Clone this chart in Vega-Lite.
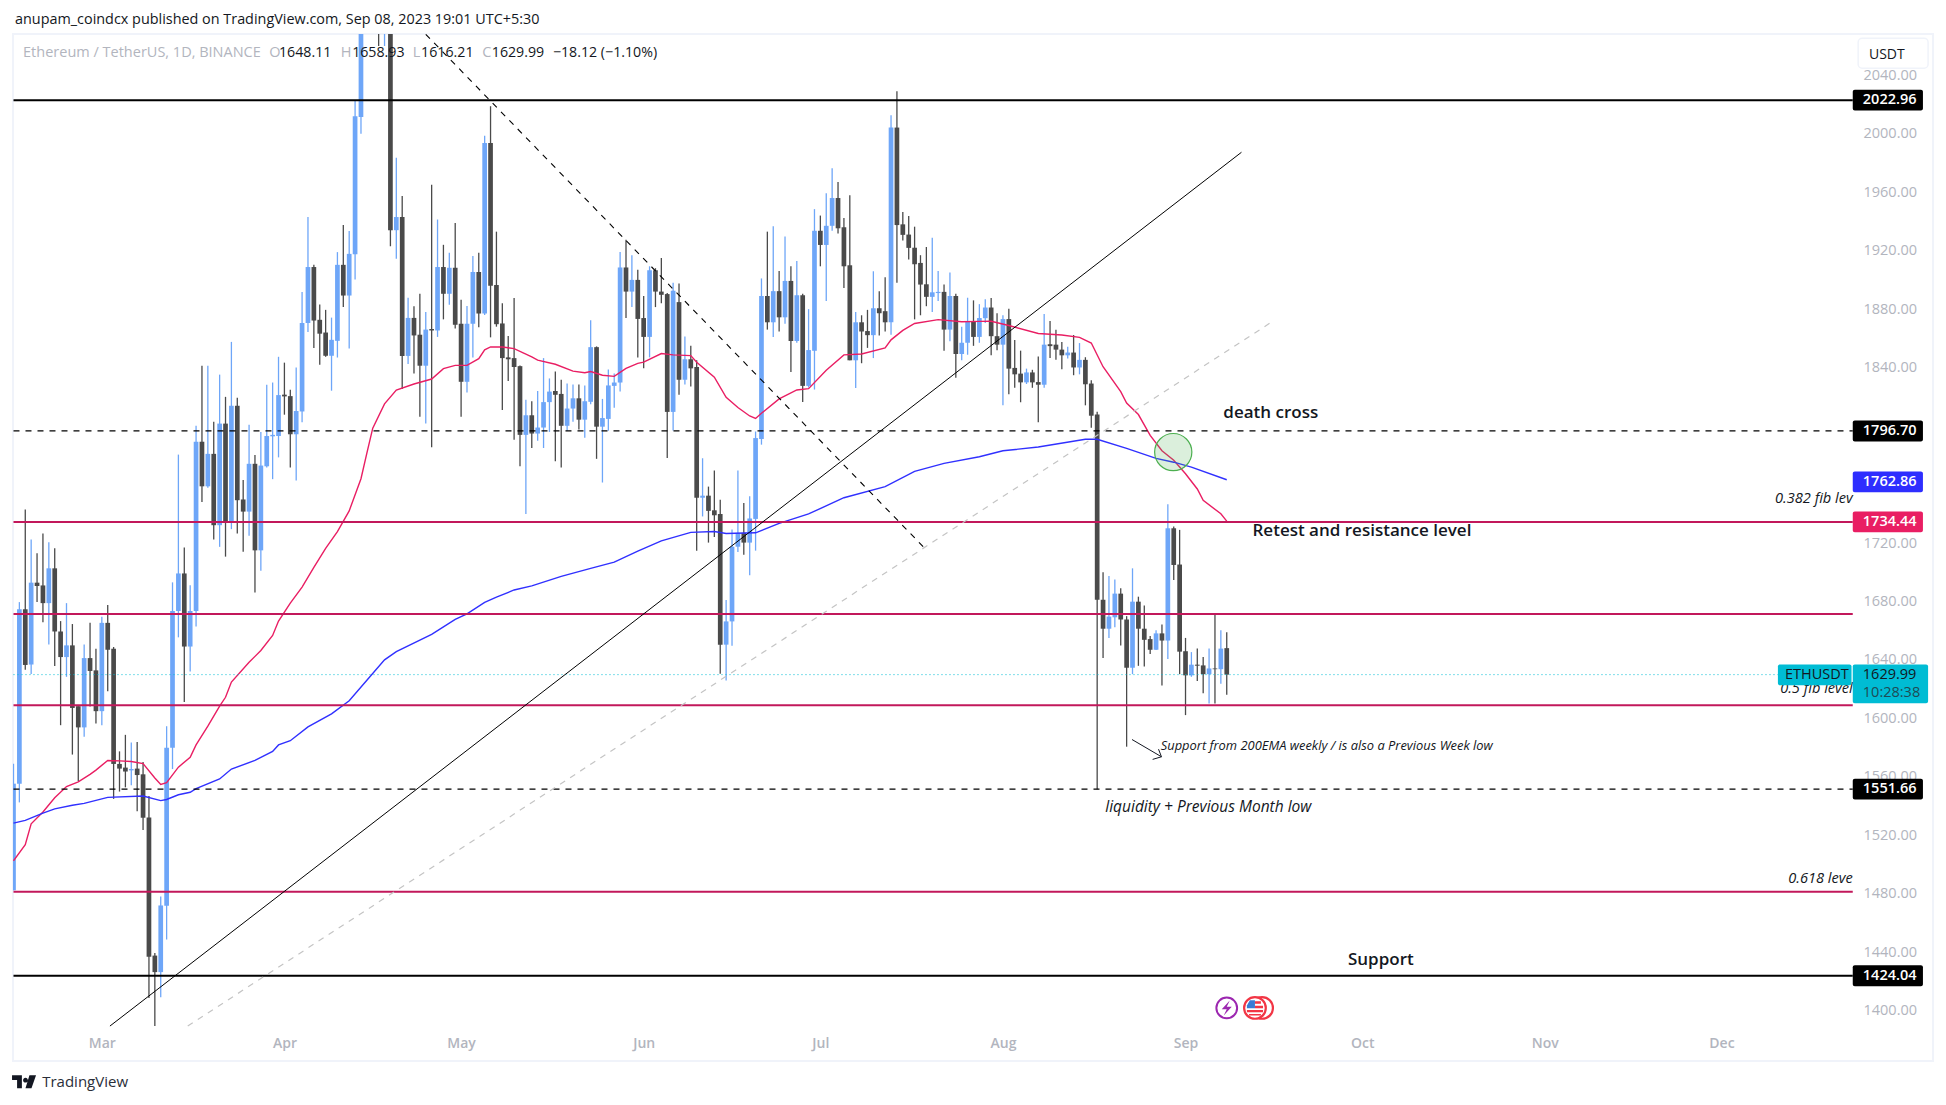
{
"$schema":"https://vega.github.io/schema/vega-lite/v6.json",
"width":1920,"height":1027,
"padding":{"left":13,"top":34,"right":13,"bottom":44},
"autosize":{"type":"none"},
"background":"#ffffff",
"config":{"view":{"stroke":"#f0f3fa","strokeWidth":2},"axis":{"title":null,"grid":false}},
"title":{"text":"anupam_coindcx published on TradingView.com, Sep 08, 2023 19:01 UTC+5:30","anchor":"start","offset":5,"dx":3,"fontSize":14.4,"fontWeight":"normal","font":"Open Sans","color":"#131722"},
"datasets":{
"candles":[
{"d":"2023-02-14","o":1482.5,"h":1569,"l":1482.5,"c":1555.4},
{"d":"2023-02-15","o":1555.4,"h":1679.6,"l":1542.6,"c":1674.7},
{"d":"2023-02-16","o":1674.7,"h":1743,"l":1633.4,"c":1636.6},
{"d":"2023-02-17","o":1636.9,"h":1722.5,"l":1630.5,"c":1692.9},
{"d":"2023-02-18","o":1692.9,"h":1713,"l":1679.6,"c":1690.6},
{"d":"2023-02-19","o":1691,"h":1726.6,"l":1665.9,"c":1678.9},
{"d":"2023-02-20","o":1678.9,"h":1720.5,"l":1650.6,"c":1702.7},
{"d":"2023-02-21","o":1702.7,"h":1716.4,"l":1635.9,"c":1659.5},
{"d":"2023-02-22","o":1659.5,"h":1666.6,"l":1595.4,"c":1642},
{"d":"2023-02-23","o":1642,"h":1678.9,"l":1628.5,"c":1650},
{"d":"2023-02-24","o":1650,"h":1664.6,"l":1575.3,"c":1607.2},
{"d":"2023-02-25","o":1608.4,"h":1608.4,"l":1557.3,"c":1593.9},
{"d":"2023-02-26","o":1593.9,"h":1650.6,"l":1587.5,"c":1641.3},
{"d":"2023-02-27","o":1641.3,"h":1665.4,"l":1608.2,"c":1632.5},
{"d":"2023-02-28","o":1632.9,"h":1647.7,"l":1596.6,"c":1605},
{"d":"2023-03-01","o":1605,"h":1669.5,"l":1595.4,"c":1665.4},
{"d":"2023-03-02","o":1665.4,"h":1677.6,"l":1618.7,"c":1647},
{"d":"2023-03-03","o":1647.7,"h":1648.9,"l":1545,"c":1568.9},
{"d":"2023-03-04","o":1568.9,"h":1577.5,"l":1550,"c":1565.7},
{"d":"2023-03-05","o":1566.4,"h":1588.8,"l":1552.9,"c":1563.7},
{"d":"2023-03-06","o":1564.5,"h":1583.6,"l":1554.4,"c":1565.4},
{"d":"2023-03-07","o":1565.7,"h":1583.9,"l":1536.5,"c":1561.3},
{"d":"2023-03-08","o":1561.8,"h":1570.3,"l":1523.7,"c":1532.1},
{"d":"2023-03-09","o":1532.3,"h":1547,"l":1408.8,"c":1437},
{"d":"2023-03-10","o":1437.8,"h":1439.5,"l":1389.6,"c":1426.5},
{"d":"2023-03-11","o":1426.5,"h":1478.3,"l":1409.3,"c":1472.1},
{"d":"2023-03-12","o":1471.9,"h":1594.7,"l":1448.8,"c":1579.9},
{"d":"2023-03-13","o":1579.9,"h":1693.1,"l":1565.4,"c":1673.5},
{"d":"2023-03-14","o":1673.5,"h":1780.5,"l":1655.5,"c":1699.2},
{"d":"2023-03-15","o":1699.2,"h":1716.9,"l":1611.3,"c":1649.2},
{"d":"2023-03-16","o":1649.2,"h":1691.1,"l":1632.2,"c":1673.5},
{"d":"2023-03-17","o":1673.5,"h":1800.3,"l":1662.9,"c":1789.3},
{"d":"2023-03-18","o":1789.3,"h":1841.2,"l":1748.1,"c":1758.8},
{"d":"2023-03-19","o":1758.8,"h":1841.2,"l":1757.8,"c":1781},
{"d":"2023-03-20","o":1781,"h":1803,"l":1722.5,"c":1732.2},
{"d":"2023-03-21","o":1732.2,"h":1835.2,"l":1717.4,"c":1801.7},
{"d":"2023-03-22","o":1801.7,"h":1820,"l":1710.7,"c":1734.4},
{"d":"2023-03-23","o":1734.4,"h":1857.6,"l":1729.5,"c":1813.9},
{"d":"2023-03-24","o":1813.9,"h":1819.3,"l":1726.6,"c":1749.3},
{"d":"2023-03-25","o":1749.8,"h":1763.2,"l":1714,"c":1741.5},
{"d":"2023-03-26","o":1741.5,"h":1801,"l":1725,"c":1774.2},
{"d":"2023-03-27","o":1774.2,"h":1780.3,"l":1686.2,"c":1715},
{"d":"2023-03-28","o":1715,"h":1796,"l":1701,"c":1773},
{"d":"2023-03-29","o":1772.5,"h":1828.3,"l":1771.7,"c":1793.2},
{"d":"2023-03-30","o":1793,"h":1829.8,"l":1763.7,"c":1794},
{"d":"2023-03-31","o":1793.2,"h":1847.4,"l":1778.6,"c":1821.2},
{"d":"2023-04-01","o":1821.5,"h":1843.4,"l":1807.8,"c":1820.3},
{"d":"2023-04-02","o":1820.5,"h":1824.9,"l":1771.7,"c":1794.4},
{"d":"2023-04-03","o":1794.4,"h":1840,"l":1762.7,"c":1810.3},
{"d":"2023-04-04","o":1810,"h":1891.7,"l":1802.7,"c":1870.5},
{"d":"2023-04-05","o":1870.5,"h":1943,"l":1864.4,"c":1908.8},
{"d":"2023-04-06","o":1908.8,"h":1910.3,"l":1853.4,"c":1872.2},
{"d":"2023-04-07","o":1872.7,"h":1883.2,"l":1842,"c":1863.2},
{"d":"2023-04-08","o":1864,"h":1879.5,"l":1847.4,"c":1848.1},
{"d":"2023-04-09","o":1848.1,"h":1874.2,"l":1824.2,"c":1859},
{"d":"2023-04-10","o":1858.3,"h":1919,"l":1846.9,"c":1910.3},
{"d":"2023-04-11","o":1910.3,"h":1937.6,"l":1881.5,"c":1889.3},
{"d":"2023-04-12","o":1889.3,"h":1933.5,"l":1853,"c":1917.8},
{"d":"2023-04-13","o":1917.6,"h":2022.96,"l":1900.3,"c":2012},
{"d":"2023-04-14","o":2011.5,"h":2125,"l":2000,"c":2100},
{"d":"2023-04-15","o":2100,"h":2110,"l":2071,"c":2092},
{"d":"2023-04-16","o":2092,"h":2138,"l":2080,"c":2120},
{"d":"2023-04-17","o":2120,"h":2125,"l":2060,"c":2077},
{"d":"2023-04-18","o":2077,"h":2141,"l":2060,"c":2100},
{"d":"2023-04-19","o":2100,"h":2100,"l":1923,"c":1933.9},
{"d":"2023-04-20","o":1934,"h":1983.5,"l":1914.4,"c":1943},
{"d":"2023-04-21","o":1943,"h":1957.4,"l":1825.4,"c":1848},
{"d":"2023-04-22","o":1848,"h":1887.8,"l":1842.5,"c":1874},
{"d":"2023-04-23","o":1874,"h":1882,"l":1836,"c":1862},
{"d":"2023-04-24","o":1862.5,"h":1890.5,"l":1806.4,"c":1841.3},
{"d":"2023-04-25","o":1841.3,"h":1878,"l":1801.7,"c":1866},
{"d":"2023-04-26","o":1866.4,"h":1965,"l":1785.6,"c":1865.4},
{"d":"2023-04-27","o":1865.4,"h":1941.3,"l":1861,"c":1908.8},
{"d":"2023-04-28","o":1908.8,"h":1924,"l":1873,"c":1890.5},
{"d":"2023-04-29","o":1890.5,"h":1918.6,"l":1883,"c":1908.3},
{"d":"2023-04-30","o":1908.3,"h":1939,"l":1866.8,"c":1869.3},
{"d":"2023-05-01","o":1870,"h":1886.4,"l":1806.4,"c":1830.3},
{"d":"2023-05-02","o":1830.3,"h":1882.2,"l":1823,"c":1870},
{"d":"2023-05-03","o":1870,"h":1916.4,"l":1847,"c":1905.4},
{"d":"2023-05-04","o":1905.4,"h":1918.6,"l":1867.6,"c":1877},
{"d":"2023-05-05","o":1877,"h":1998.6,"l":1876,"c":1993.7},
{"d":"2023-05-06","o":1993.7,"h":2018.8,"l":1860.7,"c":1896},
{"d":"2023-05-07","o":1896.5,"h":1933,"l":1868,"c":1869.7},
{"d":"2023-05-08","o":1870.2,"h":1884,"l":1811,"c":1846.5},
{"d":"2023-05-09","o":1847,"h":1861.6,"l":1830.9,"c":1845.7},
{"d":"2023-05-10","o":1846.5,"h":1887.6,"l":1790.7,"c":1840.4},
{"d":"2023-05-11","o":1841,"h":1841.5,"l":1772.5,"c":1794},
{"d":"2023-05-12","o":1794,"h":1818,"l":1739.9,"c":1807.4},
{"d":"2023-05-13","o":1807.4,"h":1817,"l":1785,"c":1794.9},
{"d":"2023-05-14","o":1794.9,"h":1824,"l":1790,"c":1799},
{"d":"2023-05-15","o":1799,"h":1846.5,"l":1785,"c":1816.4},
{"d":"2023-05-16","o":1816.4,"h":1832.6,"l":1796,"c":1823.6},
{"d":"2023-05-17","o":1824,"h":1837.3,"l":1776,"c":1821.4},
{"d":"2023-05-18","o":1822,"h":1831.7,"l":1771.7,"c":1800.2},
{"d":"2023-05-19","o":1800.2,"h":1829.2,"l":1796.8,"c":1812},
{"d":"2023-05-20","o":1812,"h":1828.4,"l":1803,"c":1819},
{"d":"2023-05-21","o":1819,"h":1828.4,"l":1797.7,"c":1804.4},
{"d":"2023-05-22","o":1804.4,"h":1827.8,"l":1792,"c":1817},
{"d":"2023-05-23","o":1816.6,"h":1872.4,"l":1815,"c":1854},
{"d":"2023-05-24","o":1854,"h":1854.5,"l":1777.6,"c":1799.6},
{"d":"2023-05-25","o":1799.6,"h":1818.6,"l":1761.4,"c":1805.5},
{"d":"2023-05-26","o":1804.9,"h":1838.7,"l":1796.8,"c":1827.8},
{"d":"2023-05-27","o":1827.5,"h":1836,"l":1812.5,"c":1829.8},
{"d":"2023-05-28","o":1829.8,"h":1919,"l":1823.6,"c":1908.5},
{"d":"2023-05-29","o":1908.5,"h":1927.5,"l":1873.9,"c":1892},
{"d":"2023-05-30","o":1892,"h":1916.9,"l":1881.4,"c":1900},
{"d":"2023-05-31","o":1900,"h":1907,"l":1847,"c":1873.3},
{"d":"2023-06-01","o":1873.9,"h":1889,"l":1839.6,"c":1861},
{"d":"2023-06-02","o":1861,"h":1909.3,"l":1847,"c":1906.6},
{"d":"2023-06-03","o":1906.6,"h":1908,"l":1881.4,"c":1892},
{"d":"2023-06-04","o":1892,"h":1914.9,"l":1884,"c":1889.8},
{"d":"2023-06-05","o":1890.3,"h":1891,"l":1778.1,"c":1809.7},
{"d":"2023-06-06","o":1809.7,"h":1898,"l":1797,"c":1892.6},
{"d":"2023-06-07","o":1884.8,"h":1897.6,"l":1821.4,"c":1831.7},
{"d":"2023-06-08","o":1831.7,"h":1861.3,"l":1828.4,"c":1845.7},
{"d":"2023-06-09","o":1845.7,"h":1854.9,"l":1827,"c":1839.5},
{"d":"2023-06-10","o":1840.4,"h":1845,"l":1714.8,"c":1751},
{"d":"2023-06-11","o":1751,"h":1778,"l":1738.2,"c":1752.4},
{"d":"2023-06-12","o":1752.4,"h":1758.6,"l":1720.3,"c":1742},
{"d":"2023-06-13","o":1742.4,"h":1769.7,"l":1724.2,"c":1739},
{"d":"2023-06-14","o":1739.9,"h":1749.6,"l":1630.6,"c":1650.5},
{"d":"2023-06-15","o":1650.5,"h":1681,"l":1626,"c":1666.4},
{"d":"2023-06-16","o":1666.4,"h":1729.3,"l":1649.7,"c":1717.5},
{"d":"2023-06-17","o":1717.5,"h":1769.7,"l":1713.9,"c":1727},
{"d":"2023-06-18","o":1727,"h":1747.4,"l":1712,"c":1720.3},
{"d":"2023-06-19","o":1720.3,"h":1752,"l":1698,"c":1736.8},
{"d":"2023-06-20","o":1736.5,"h":1796.3,"l":1714.8,"c":1791.8},
{"d":"2023-06-21","o":1791.2,"h":1901,"l":1787.3,"c":1889},
{"d":"2023-06-22","o":1889,"h":1933,"l":1866,"c":1871},
{"d":"2023-06-23","o":1871,"h":1936.7,"l":1861,"c":1892.3},
{"d":"2023-06-24","o":1892.3,"h":1906,"l":1864.7,"c":1874.4},
{"d":"2023-06-25","o":1874.4,"h":1929.7,"l":1870,"c":1899.3},
{"d":"2023-06-26","o":1899.3,"h":1909.3,"l":1837,"c":1858.2},
{"d":"2023-06-27","o":1858.2,"h":1913,"l":1857,"c":1889.5},
{"d":"2023-06-28","o":1889.5,"h":1890.6,"l":1816.4,"c":1827.5},
{"d":"2023-06-29","o":1827.5,"h":1880,"l":1826.4,"c":1852},
{"d":"2023-06-30","o":1851.5,"h":1948.4,"l":1825,"c":1933.6},
{"d":"2023-07-01","o":1933.6,"h":1944,"l":1909.3,"c":1923.9},
{"d":"2023-07-02","o":1923.9,"h":1959.3,"l":1885.6,"c":1937},
{"d":"2023-07-03","o":1937,"h":1976.3,"l":1933.6,"c":1956},
{"d":"2023-07-04","o":1956,"h":1967,"l":1931.7,"c":1935.3},
{"d":"2023-07-05","o":1936,"h":1942.3,"l":1894.5,"c":1909.3},
{"d":"2023-07-06","o":1910,"h":1957.9,"l":1845,"c":1845},
{"d":"2023-07-07","o":1845,"h":1878,"l":1826,"c":1871},
{"d":"2023-07-08","o":1871,"h":1875.8,"l":1843,"c":1864.7},
{"d":"2023-07-09","o":1865,"h":1879.5,"l":1853.5,"c":1862.2},
{"d":"2023-07-10","o":1862.2,"h":1905.9,"l":1846.5,"c":1880.6},
{"d":"2023-07-11","o":1880.6,"h":1892.3,"l":1861.9,"c":1877.2},
{"d":"2023-07-12","o":1878.6,"h":1901.8,"l":1864.7,"c":1871},
{"d":"2023-07-13","o":1871,"h":2012.6,"l":1862.4,"c":2004.2},
{"d":"2023-07-14","o":2004.2,"h":2029,"l":1898,"c":1937.5},
{"d":"2023-07-15","o":1938,"h":1946.5,"l":1926.9,"c":1930.8},
{"d":"2023-07-16","o":1931,"h":1943.7,"l":1914,"c":1921.9},
{"d":"2023-07-17","o":1922,"h":1936.4,"l":1873,"c":1910.7},
{"d":"2023-07-18","o":1911.6,"h":1916.9,"l":1875.8,"c":1896.8},
{"d":"2023-07-19","o":1897,"h":1922.5,"l":1882,"c":1888.4},
{"d":"2023-07-20","o":1888.4,"h":1928.9,"l":1878,"c":1891.5},
{"d":"2023-07-21","o":1891,"h":1906,"l":1885.6,"c":1891.8},
{"d":"2023-07-22","o":1891.8,"h":1896.8,"l":1851.5,"c":1866},
{"d":"2023-07-23","o":1866,"h":1905,"l":1858,"c":1889},
{"d":"2023-07-24","o":1889,"h":1890.6,"l":1833,"c":1849.3},
{"d":"2023-07-25","o":1849.3,"h":1868,"l":1845,"c":1857},
{"d":"2023-07-26","o":1857,"h":1887.8,"l":1848.8,"c":1871.6},
{"d":"2023-07-27","o":1871.6,"h":1886,"l":1854.9,"c":1861},
{"d":"2023-07-28","o":1861,"h":1883.4,"l":1857,"c":1873.9},
{"d":"2023-07-29","o":1873.8,"h":1886.8,"l":1870.6,"c":1881.1},
{"d":"2023-07-30","o":1881.1,"h":1887.6,"l":1848.4,"c":1861.5},
{"d":"2023-07-31","o":1861.5,"h":1877.2,"l":1851.8,"c":1855.7},
{"d":"2023-08-01","o":1855.7,"h":1875.9,"l":1814.2,"c":1873.2},
{"d":"2023-08-02","o":1873.2,"h":1880.3,"l":1821.8,"c":1839.3},
{"d":"2023-08-03","o":1839.8,"h":1858.9,"l":1826.2,"c":1835.4},
{"d":"2023-08-04","o":1835.9,"h":1851.6,"l":1816.3,"c":1829.9},
{"d":"2023-08-05","o":1829.9,"h":1839.3,"l":1828.8,"c":1836.7},
{"d":"2023-08-06","o":1836.7,"h":1838.5,"l":1826.2,"c":1829.9},
{"d":"2023-08-07","o":1830.1,"h":1847.6,"l":1802.7,"c":1828.3},
{"d":"2023-08-08","o":1828.3,"h":1876.6,"l":1826.2,"c":1855.7},
{"d":"2023-08-09","o":1856,"h":1871.9,"l":1846.6,"c":1854.7},
{"d":"2023-08-10","o":1855.7,"h":1865.9,"l":1845.3,"c":1852.3},
{"d":"2023-08-11","o":1852.3,"h":1857.6,"l":1838.8,"c":1848.4},
{"d":"2023-08-12","o":1848.4,"h":1854.2,"l":1846.3,"c":1850.3},
{"d":"2023-08-13","o":1850.3,"h":1862.3,"l":1834.8,"c":1840.1},
{"d":"2023-08-14","o":1840.1,"h":1856.8,"l":1835.4,"c":1845.3},
{"d":"2023-08-15","o":1845.3,"h":1847.1,"l":1814.2,"c":1828.6},
{"d":"2023-08-16","o":1829.1,"h":1831.4,"l":1798.8,"c":1807.1},
{"d":"2023-08-17","o":1807.9,"h":1809.8,"l":1551.66,"c":1681.2},
{"d":"2023-08-18","o":1681.2,"h":1700,"l":1641.3,"c":1661.4},
{"d":"2023-08-19","o":1661.4,"h":1697.4,"l":1655.1,"c":1669.7},
{"d":"2023-08-20","o":1669.2,"h":1695.1,"l":1662.4,"c":1685.4},
{"d":"2023-08-21","o":1685.4,"h":1689.1,"l":1649.9,"c":1667.7},
{"d":"2023-08-22","o":1667.7,"h":1670,"l":1580.7,"c":1634.7},
{"d":"2023-08-23","o":1634.7,"h":1702.7,"l":1630.3,"c":1679.9},
{"d":"2023-08-24","o":1679.9,"h":1683.3,"l":1636,"c":1661.4},
{"d":"2023-08-25","o":1661.4,"h":1677.3,"l":1635.5,"c":1653.8},
{"d":"2023-08-26","o":1654.3,"h":1656.4,"l":1644.1,"c":1647},
{"d":"2023-08-27","o":1647,"h":1660.3,"l":1646.8,"c":1658.2},
{"d":"2023-08-28","o":1658.2,"h":1664.3,"l":1622.5,"c":1653.3},
{"d":"2023-08-29","o":1653.3,"h":1746.5,"l":1640.7,"c":1730.1},
{"d":"2023-08-30","o":1730.1,"h":1731.4,"l":1694.8,"c":1705},
{"d":"2023-08-31","o":1705.3,"h":1729,"l":1630.3,"c":1645.7},
{"d":"2023-09-01","o":1646,"h":1655.1,"l":1602.3,"c":1629.5},
{"d":"2023-09-02","o":1629.5,"h":1645.4,"l":1628.5,"c":1636.8},
{"d":"2023-09-03","o":1636.8,"h":1647.8,"l":1625.6,"c":1636.1},
{"d":"2023-09-04","o":1636.3,"h":1642.1,"l":1617.2,"c":1630.3},
{"d":"2023-09-05","o":1630.3,"h":1647.8,"l":1610.2,"c":1634.2},
{"d":"2023-09-06","o":1634.2,"h":1670.8,"l":1610.2,"c":1633.7},
{"d":"2023-09-07","o":1633.7,"h":1660.3,"l":1623.8,"c":1647.8},
{"d":"2023-09-08","o":1648.11,"h":1658.93,"l":1616.21,"c":1629.99}
],
"ema50":[
{"d":"2023-02-14","v":1502.6},{"d":"2023-02-16","v":1513.6},{"d":"2023-02-17","v":1527.9},{"d":"2023-02-19","v":1536},{"d":"2023-02-21","v":1545.8},{"d":"2023-02-23","v":1553.4},{"d":"2023-02-25","v":1556.6},{"d":"2023-02-27","v":1561.8},{"d":"2023-02-28","v":1564.7},{"d":"2023-03-02","v":1571.3},{"d":"2023-03-04","v":1571},{"d":"2023-03-06","v":1570.6},{"d":"2023-03-08","v":1569.1},{"d":"2023-03-10","v":1559.3},{"d":"2023-03-11","v":1554.9},{"d":"2023-03-12","v":1556.1},{"d":"2023-03-14","v":1566.7},{"d":"2023-03-16","v":1573.5},{"d":"2023-03-17","v":1581.9},{"d":"2023-03-19","v":1594.7},{"d":"2023-03-21","v":1608.4},{"d":"2023-03-22","v":1614.5},{"d":"2023-03-23","v":1624.9},{"d":"2023-03-26","v":1638.4},{"d":"2023-03-28","v":1646.5},{"d":"2023-03-30","v":1656.8},{"d":"2023-03-31","v":1666.6},{"d":"2023-04-02","v":1678.9},{"d":"2023-04-04","v":1689.9},{"d":"2023-04-06","v":1703.4},{"d":"2023-04-08","v":1716.4},{"d":"2023-04-10","v":1727.8},{"d":"2023-04-12","v":1742},{"d":"2023-04-14","v":1764},{"d":"2023-04-15","v":1781.5},{"d":"2023-04-16","v":1798.6},{"d":"2023-04-18","v":1815.2},{"d":"2023-04-20","v":1824.7},{"d":"2023-04-23","v":1828.8},{"d":"2023-04-26","v":1832.2},{"d":"2023-04-28","v":1839.3},{"d":"2023-04-30","v":1841.5},{"d":"2023-05-02","v":1841.5},{"d":"2023-05-04","v":1846.1},{"d":"2023-05-05","v":1852.2},{"d":"2023-05-06","v":1854.2},{"d":"2023-05-08","v":1854.1},{"d":"2023-05-10","v":1853},{"d":"2023-05-13","v":1847.4},{"d":"2023-05-14","v":1845.1},{"d":"2023-05-17","v":1842.3},{"d":"2023-05-20","v":1837.6},{"d":"2023-05-22","v":1836.5},{"d":"2023-05-23","v":1837.3},{"d":"2023-05-25","v":1834.8},{"d":"2023-05-27","v":1834},{"d":"2023-05-29","v":1839.5},{"d":"2023-05-31","v":1842.9},{"d":"2023-06-01","v":1843.7},{"d":"2023-06-04","v":1849.6},{"d":"2023-06-06","v":1848.7},{"d":"2023-06-09","v":1848.2},{"d":"2023-06-10","v":1843.7},{"d":"2023-06-13","v":1833.4},{"d":"2023-06-15","v":1819.7},{"d":"2023-06-17","v":1812.7},{"d":"2023-06-19","v":1806.9},{"d":"2023-06-20","v":1805.2},{"d":"2023-06-21","v":1808.8},{"d":"2023-06-24","v":1818.6},{"d":"2023-06-27","v":1824.7},{"d":"2023-06-29","v":1825.6},{"d":"2023-07-02","v":1838.2},{"d":"2023-07-05","v":1848.7},{"d":"2023-07-08","v":1849.3},{"d":"2023-07-12","v":1853.5},{"d":"2023-07-13","v":1859},{"d":"2023-07-15","v":1865.5},{"d":"2023-07-17","v":1870.2},{"d":"2023-07-21","v":1872.8},{"d":"2023-07-25","v":1871.4},{"d":"2023-07-28","v":1871.6},{"d":"2023-07-30","v":1871.7},{"d":"2023-08-02","v":1868.8},{"d":"2023-08-07","v":1863.3},{"d":"2023-08-11","v":1862.3},{"d":"2023-08-14","v":1860.7},{"d":"2023-08-16","v":1856.8},{"d":"2023-08-18","v":1840.6},{"d":"2023-08-21","v":1823.6},{"d":"2023-08-22","v":1815.8},{"d":"2023-08-24","v":1807.9},{"d":"2023-08-26","v":1793.6},{"d":"2023-08-28","v":1783.1},{"d":"2023-08-30","v":1776.6},{"d":"2023-09-01","v":1767.4},{"d":"2023-09-03","v":1757},{"d":"2023-09-04","v":1749.2},{"d":"2023-09-07","v":1740},{"d":"2023-09-08","v":1735}
],
"ema200":[
{"d":"2023-02-14","v":1528.4},{"d":"2023-02-16","v":1530.3},{"d":"2023-02-19","v":1535.2},{"d":"2023-02-21","v":1538.2},{"d":"2023-02-24","v":1540.6},{"d":"2023-02-26","v":1541.9},{"d":"2023-03-02","v":1546},{"d":"2023-03-08","v":1547},{"d":"2023-03-11","v":1543.8},{"d":"2023-03-12","v":1544.6},{"d":"2023-03-14","v":1547.8},{"d":"2023-03-16","v":1549.5},{"d":"2023-03-17","v":1552},{"d":"2023-03-21","v":1558.6},{"d":"2023-03-23","v":1565.4},{"d":"2023-03-27","v":1571.3},{"d":"2023-03-30","v":1577.5},{"d":"2023-03-31","v":1581.9},{"d":"2023-04-02","v":1584.8},{"d":"2023-04-05","v":1594.2},{"d":"2023-04-09","v":1603.2},{"d":"2023-04-12","v":1612.1},{"d":"2023-04-15","v":1626.1},{"d":"2023-04-18","v":1640.1},{"d":"2023-04-20","v":1645.7},{"d":"2023-04-26","v":1657.5},{"d":"2023-04-30","v":1667.8},{"d":"2023-05-02","v":1671.5},{"d":"2023-05-05","v":1679.4},{"d":"2023-05-07","v":1683},{"d":"2023-05-10","v":1687.9},{"d":"2023-05-13","v":1690.7},{"d":"2023-05-18","v":1697.2},{"d":"2023-05-23","v":1702.7},{"d":"2023-05-27","v":1706.9},{"d":"2023-05-31","v":1714.5},{"d":"2023-06-04","v":1721.5},{"d":"2023-06-09","v":1727.3},{"d":"2023-06-13","v":1727.9},{"d":"2023-06-15","v":1726.5},{"d":"2023-06-20","v":1727},{"d":"2023-06-24","v":1733.5},{"d":"2023-06-29","v":1739.9},{"d":"2023-07-05","v":1751},{"d":"2023-07-12","v":1758.6},{"d":"2023-07-17","v":1769},{"d":"2023-07-22","v":1774.5},{"d":"2023-07-28","v":1779},{"d":"2023-08-01","v":1783.1},{"d":"2023-08-07","v":1785.7},{"d":"2023-08-15","v":1791},{"d":"2023-08-17","v":1791},{"d":"2023-08-22","v":1784.7},{"d":"2023-08-27","v":1777.9},{"d":"2023-08-30","v":1775.3},{"d":"2023-09-02","v":1771.9},{"d":"2023-09-08","v":1763.3}
],
"solidLevels":[{"price":2022.96,"from":"2023-02-14","to":"2023-12-23T07:00:00Z"},{"price":1424.04,"from":"2023-02-14","to":"2023-12-23T07:00:00Z"}],
"dashLevels":[{"price":1796.7,"from":"2023-02-14","to":"2023-12-23T07:00:00Z"},{"price":1551.66,"from":"2023-02-14","to":"2023-12-23T07:00:00Z"}],
"fibLevels":[{"price":1734.44,"from":"2023-02-14","to":"2023-12-23T07:00:00Z"},{"price":1671.5,"from":"2023-02-14","to":"2023-12-23T07:00:00Z"},{"price":1609,"from":"2023-02-14","to":"2023-12-23T07:00:00Z"},{"price":1481.5,"from":"2023-02-14","to":"2023-12-23T07:00:00Z"}],
"lastPrice":[{"price":1629.99,"from":"2023-02-14","to":"2023-12-10T14:00:00Z"}],
"trendSolid":[{"d":"2023-03-02T09:00:00Z","p":1389.6},{"d":"2023-09-10T12:00:00Z","p":1987.3}],
"trendDash":[{"d":"2023-04-25T00:00:00Z","p":2068},{"d":"2023-07-19T00:00:00Z","p":1715.3}],
"trendGray":[{"d":"2023-03-15T14:00:00Z","p":1389.6},{"d":"2023-09-15T14:00:00Z","p":1871.1}],
"arrow":[
{"part":"shaft","seq":1,"d":"2023-08-22T22:00:00Z","p":1585.6},{"part":"shaft","seq":2,"d":"2023-08-27T22:00:00Z","p":1573.8},
{"part":"head","seq":1,"d":"2023-08-26T10:00:00Z","p":1572},{"part":"head","seq":2,"d":"2023-08-27T22:00:00Z","p":1573.8},{"part":"head","seq":3,"d":"2023-08-27T10:00:00Z","p":1579}
],
"crossMark":[{"d":"2023-08-29T22:00:00Z","p":1782.2}],
"boldNotes":[
{"t":"death cross","d":"2023-09-07T10:00:00Z","p":1809},
{"t":"Retest and resistance level","d":"2023-09-12T09:00:00Z","p":1727.9},
{"t":"Support","d":"2023-09-28T14:00:00Z","p":1435}
],
"italicNotes":[
{"t":"liquidity + Previous Month low","d":"2023-08-18T09:00:00Z","p":1539.6}
],
"smallNotes":[
{"t":"Support from 200EMA weekly / is also a Previous Week low","d":"2023-08-27T19:00:00Z","p":1581.3}
],
"fibNotes":[
{"t":"0.382 fib lev","d":"2023-12-23T07:00:00Z","p":1750.4},
{"t":"0.618 leve","d":"2023-12-23T07:00:00Z","p":1490.4},
{"t":"0.5 fib level","d":"2023-12-23T07:00:00Z","p":1620.3}
],
"legendGray":[
{"t":"Ethereum / TetherUS, 1D, BINANCE","d":"2023-02-15T15:00:00Z","p":2055},
{"t":"O","d":"2023-03-29T10:00:00Z","p":2055},
{"t":"H","d":"2023-04-10T14:00:00Z","p":2055},
{"t":"L","d":"2023-04-22T19:00:00Z","p":2055},
{"t":"C","d":"2023-05-04T14:00:00Z","p":2055}
],
"legendValues":[
{"t":"1648.11","d":"2023-03-31T02:00:00Z","p":2055},
{"t":"1658.93","d":"2023-04-12T12:00:00Z","p":2055},
{"t":"1616.21","d":"2023-04-24T05:00:00Z","p":2055},
{"t":"1629.99","d":"2023-05-06T05:00:00Z","p":2055},
{"t":"−18.12 (−1.10%)","d":"2023-05-16T14:00:00Z","p":2055}
],
"tags":[
{"label":"2022.96","price":2022.96,"hi":2030.1,"lo":2015.8,"kind":"level","from":"2023-12-23T07:00:00Z","to":"2024-01-04T05:00:00Z","tx":"2023-12-25"},
{"label":"1796.70","price":1796.7,"hi":1803.9,"lo":1789.5,"kind":"level","from":"2023-12-23T07:00:00Z","to":"2024-01-04T05:00:00Z","tx":"2023-12-25"},
{"label":"1762.86","price":1761.9,"hi":1769,"lo":1754.8,"kind":"ema200","from":"2023-12-23T07:00:00Z","to":"2024-01-04T05:00:00Z","tx":"2023-12-25"},
{"label":"1734.44","price":1734.44,"hi":1741.6,"lo":1727.3,"kind":"ema50","from":"2023-12-23T07:00:00Z","to":"2024-01-04T05:00:00Z","tx":"2023-12-25"},
{"label":"1551.66","price":1551.66,"hi":1558.8,"lo":1544.5,"kind":"level","from":"2023-12-23T07:00:00Z","to":"2024-01-04T05:00:00Z","tx":"2023-12-25"},
{"label":"1424.04","price":1424.04,"hi":1431.2,"lo":1416.9,"kind":"level","from":"2023-12-23T07:00:00Z","to":"2024-01-04T05:00:00Z","tx":"2023-12-25"}
],
"lastTags":[
{"hi":1637,"lo":1610.4,"from":"2023-12-23T07:00:00Z","to":"2024-01-05T02:00:00Z"},
{"hi":1637,"lo":1622.7,"from":"2023-12-10T14:00:00Z","to":"2023-12-23T02:00:00Z"}
],
"lastText":[
{"t":"1629.99","d":"2023-12-25","p":1630},
{"t":"ETHUSDT","d":"2023-12-11T19:00:00Z","p":1630}
],
"timer":[{"t":"10:28:38","d":"2023-12-25","p":1617.4}],
"unitBox":[{"hi":2065.3,"lo":2044.8,"from":"2023-12-24T05:00:00Z","to":"2024-01-05T02:00:00Z"}],
"unitText":[{"t":"USDT","d":"2023-12-26T01:00:00Z","p":2054}],
"logo":[{"d":"2023-02-15T19:00:00Z","p":1351.5}],
"logoText":[{"t":"TradingView","d":"2023-02-18T21:00:00Z","p":1351.5}],
"iconBolt":[{"d":"2023-09-08T00:00:00Z","p":1402}],
"iconFlagBack":[{"d":"2023-09-14T00:00:00Z","p":1402}],
"iconFlag":[{"d":"2023-09-12T19:00:00Z","p":1402}]
},
"layer":[
{"data":{"name":"candles"},"mark":{"type":"rule","strokeWidth":1.3,"clip":true},
 "encoding":{"x":{"field":"d","type":"temporal",
   "scale":{"type":"utc","domain":[{"year":2023,"month":2,"date":13,"hours":22,"utc":true},{"year":2024,"month":1,"date":5,"hours":22,"utc":true}]},
   "axis":{"values":[{"year":2023,"month":3,"date":1,"utc":true},{"year":2023,"month":4,"date":1,"utc":true},{"year":2023,"month":5,"date":1,"utc":true},{"year":2023,"month":6,"date":1,"utc":true},{"year":2023,"month":7,"date":1,"utc":true},{"year":2023,"month":8,"date":1,"utc":true},{"year":2023,"month":9,"date":1,"utc":true},{"year":2023,"month":10,"date":1,"utc":true},{"year":2023,"month":11,"date":1,"utc":true},{"year":2023,"month":12,"date":1,"utc":true}],
     "labelExpr":"utcFormat(datum.value,'%b')","ticks":false,"domain":false,"labelPadding":-25,"labelBaseline":"top","labelFontSize":14,"labelFont":"Open Sans","labelFontWeight":600,"labelColor":"#b2b5be","labelOverlap":false,"labelFlush":false}},
  "y":{"field":"l","type":"quantitative",
   "scale":{"domain":[1365.7,2068.2],"zero":false,"nice":false},
   "axis":{"orient":"right","values":[1400,1440,1480,1520,1560,1600,1640,1680,1720,1840,1880,1920,1960,2000,2040],"format":".2f","ticks":false,"domain":false,"labelAlign":"left","labelBaseline":"middle","labelPadding":-70,"labelFontSize":14.5,"labelFont":"Open Sans","labelColor":"#b2b5be","labelOverlap":false,"labelFlush":false}},
  "y2":{"field":"h"},
  "color":{"condition":{"test":"datum.c>=datum.o","value":"#6ea6f8"},"value":"#4a4a4a"}}},
{"data":{"name":"candles"},"mark":{"type":"rule","strokeWidth":4.7,"clip":true},
 "encoding":{"x":{"field":"d","type":"temporal"},"y":{"field":"o","type":"quantitative"},"y2":{"field":"c"},
  "color":{"condition":{"test":"datum.c>=datum.o","value":"#6ea6f8"},"value":"#4a4a4a"}}},
{"data":{"name":"ema50"},"mark":{"type":"line","stroke":"#e91e63","strokeWidth":1.4,"clip":true},
 "encoding":{"x":{"field":"d","type":"temporal"},"y":{"field":"v","type":"quantitative"}}},
{"data":{"name":"ema200"},"mark":{"type":"line","stroke":"#3030ff","strokeWidth":1.4,"clip":true},
 "encoding":{"x":{"field":"d","type":"temporal"},"y":{"field":"v","type":"quantitative"}}},
{"data":{"name":"solidLevels"},"mark":{"type":"rule","stroke":"#000000","strokeWidth":2},
 "encoding":{"x":{"field":"from","type":"temporal"},"x2":{"field":"to"},"y":{"field":"price","type":"quantitative"}}},
{"data":{"name":"dashLevels"},"mark":{"type":"rule","stroke":"#000000","strokeWidth":1.3,"strokeDash":[6,6]},
 "encoding":{"x":{"field":"from","type":"temporal"},"x2":{"field":"to"},"y":{"field":"price","type":"quantitative"}}},
{"data":{"name":"fibLevels"},"mark":{"type":"rule","stroke":"#c2185b","strokeWidth":2},
 "encoding":{"x":{"field":"from","type":"temporal"},"x2":{"field":"to"},"y":{"field":"price","type":"quantitative"}}},
{"data":{"name":"lastPrice"},"mark":{"type":"rule","stroke":"#00bcd4","strokeWidth":1,"strokeDash":[1,3]},
 "encoding":{"x":{"field":"from","type":"temporal"},"x2":{"field":"to"},"y":{"field":"price","type":"quantitative"}}},
{"data":{"name":"trendSolid"},"mark":{"type":"line","stroke":"#000000","strokeWidth":1},
 "encoding":{"x":{"field":"d","type":"temporal"},"y":{"field":"p","type":"quantitative"}}},
{"data":{"name":"trendDash"},"mark":{"type":"line","stroke":"#000000","strokeWidth":1.1,"strokeDash":[6,6]},
 "encoding":{"x":{"field":"d","type":"temporal"},"y":{"field":"p","type":"quantitative"}}},
{"data":{"name":"trendGray"},"mark":{"type":"line","stroke":"#c4c4c4","strokeWidth":1.2,"strokeDash":[6,6]},
 "encoding":{"x":{"field":"d","type":"temporal"},"y":{"field":"p","type":"quantitative"}}},
{"data":{"name":"arrow"},"mark":{"type":"line","stroke":"#131722","strokeWidth":1},
 "encoding":{"x":{"field":"d","type":"temporal"},"y":{"field":"p","type":"quantitative"},"detail":{"field":"part"},"order":{"field":"seq","type":"quantitative"}}},
{"data":{"name":"crossMark"},"mark":{"type":"point","shape":"circle","size":1385,"filled":true,"fill":"#4caf50","fillOpacity":0.2,"stroke":"#4caf50","strokeWidth":1.2,"strokeOpacity":1},
 "encoding":{"x":{"field":"d","type":"temporal"},"y":{"field":"p","type":"quantitative"}}},
{"data":{"name":"boldNotes"},"mark":{"type":"text","align":"left","baseline":"middle","font":"Open Sans","fontSize":17,"fontWeight":600,"color":"#131722"},
 "encoding":{"x":{"field":"d","type":"temporal"},"y":{"field":"p","type":"quantitative"},"text":{"field":"t"}}},
{"data":{"name":"italicNotes"},"mark":{"type":"text","align":"left","baseline":"middle","font":"Open Sans","fontSize":15.5,"fontStyle":"italic","color":"#131722"},
 "encoding":{"x":{"field":"d","type":"temporal"},"y":{"field":"p","type":"quantitative"},"text":{"field":"t"}}},
{"data":{"name":"smallNotes"},"mark":{"type":"text","align":"left","baseline":"middle","font":"Open Sans","fontSize":12.9,"fontStyle":"italic","color":"#131722"},
 "encoding":{"x":{"field":"d","type":"temporal"},"y":{"field":"p","type":"quantitative"},"text":{"field":"t"}}},
{"data":{"name":"fibNotes"},"mark":{"type":"text","align":"right","baseline":"middle","font":"Open Sans","fontSize":14.6,"fontStyle":"italic","color":"#131722"},
 "encoding":{"x":{"field":"d","type":"temporal"},"y":{"field":"p","type":"quantitative"},"text":{"field":"t"}}},
{"data":{"name":"legendGray"},"mark":{"type":"text","align":"left","baseline":"middle","font":"Open Sans","fontSize":14.5,"color":"#b2b5be"},
 "encoding":{"x":{"field":"d","type":"temporal"},"y":{"field":"p","type":"quantitative"},"text":{"field":"t"}}},
{"data":{"name":"legendValues"},"mark":{"type":"text","align":"left","baseline":"middle","font":"Open Sans","fontSize":14.2,"color":"#131722"},
 "encoding":{"x":{"field":"d","type":"temporal"},"y":{"field":"p","type":"quantitative"},"text":{"field":"t"}}},
{"data":{"name":"tags"},"mark":{"type":"rect","cornerRadius":2},
 "encoding":{"x":{"field":"from","type":"temporal"},"x2":{"field":"to"},"y":{"field":"hi","type":"quantitative"},"y2":{"field":"lo"},
  "color":{"field":"kind","type":"nominal","legend":null,"scale":{"domain":["level","ema200","ema50"],"range":["#000000","#2e2eff","#e91e63"]}}}},
{"data":{"name":"tags"},"mark":{"type":"text","align":"left","baseline":"middle","font":"Open Sans","fontSize":14.5,"fontWeight":600,"color":"#ffffff"},
 "encoding":{"x":{"field":"tx","type":"temporal"},"y":{"field":"price","type":"quantitative"},"text":{"field":"label"}}},
{"data":{"name":"lastTags"},"mark":{"type":"rect","cornerRadius":2,"color":"#00bcd4"},
 "encoding":{"x":{"field":"from","type":"temporal"},"x2":{"field":"to"},"y":{"field":"hi","type":"quantitative"},"y2":{"field":"lo"}}},
{"data":{"name":"lastText"},"mark":{"type":"text","align":"left","baseline":"middle","font":"Open Sans","fontSize":14.5,"color":"#131722"},
 "encoding":{"x":{"field":"d","type":"temporal"},"y":{"field":"p","type":"quantitative"},"text":{"field":"t"}}},
{"data":{"name":"timer"},"mark":{"type":"text","align":"left","baseline":"middle","font":"Open Sans","fontSize":14.5,"color":"#1f4b55"},
 "encoding":{"x":{"field":"d","type":"temporal"},"y":{"field":"p","type":"quantitative"},"text":{"field":"t"}}},
{"data":{"name":"unitBox"},"mark":{"type":"rect","cornerRadius":4,"fill":"#ffffff","stroke":"#f0f3fa","strokeWidth":1.5},
 "encoding":{"x":{"field":"from","type":"temporal"},"x2":{"field":"to"},"y":{"field":"hi","type":"quantitative"},"y2":{"field":"lo"}}},
{"data":{"name":"unitText"},"mark":{"type":"text","align":"left","baseline":"middle","font":"Open Sans","fontSize":14,"color":"#131722"},
 "encoding":{"x":{"field":"d","type":"temporal"},"y":{"field":"p","type":"quantitative"},"text":{"field":"t"}}},
{"data":{"name":"logo"},"mark":{"type":"point","filled":true,"size":576,"opacity":1,"fill":"#131722","strokeWidth":0,"shape":"M-1,-0.54H-0.18V0.54H-0.58V-0.15H-1ZM0.12,-0.33a0.2,0.2 0 1 0 0.001,0ZM0.45,-0.54H1L0.62,0.54H0.12Z"},
 "encoding":{"x":{"field":"d","type":"temporal"},"y":{"field":"p","type":"quantitative"}}},
{"data":{"name":"logoText"},"mark":{"type":"text","align":"left","baseline":"middle","font":"Open Sans","fontSize":15,"color":"#2a2e39"},
 "encoding":{"x":{"field":"d","type":"temporal"},"y":{"field":"p","type":"quantitative"},"text":{"field":"t"}}},
{"data":{"name":"iconBolt"},"mark":{"type":"point","shape":"circle","size":430,"filled":true,"fill":"#ffffff","stroke":"#9c27b0","strokeWidth":2,"opacity":1},
 "encoding":{"x":{"field":"d","type":"temporal"},"y":{"field":"p","type":"quantitative"}}},
{"data":{"name":"iconBolt"},"mark":{"type":"point","filled":true,"size":400,"fill":"#9c27b0","strokeWidth":0,"opacity":1,"shape":"M0.3,-0.75L-0.5,0.12L0,0.12L-0.3,0.75L0.5,-0.12L0,-0.12Z"},
 "encoding":{"x":{"field":"d","type":"temporal"},"y":{"field":"p","type":"quantitative"}}},
{"data":{"name":"iconFlagBack"},"mark":{"type":"point","shape":"circle","size":470,"filled":true,"fill":"#ffffff","stroke":"#f23645","strokeWidth":2.2,"opacity":1},
 "encoding":{"x":{"field":"d","type":"temporal"},"y":{"field":"p","type":"quantitative"}}},
{"data":{"name":"iconFlag"},"mark":{"type":"point","shape":"circle","size":470,"filled":true,"fill":"#ffffff","stroke":"#f23645","strokeWidth":2.2,"opacity":1},
 "encoding":{"x":{"field":"d","type":"temporal"},"y":{"field":"p","type":"quantitative"}}},
{"data":{"name":"iconFlag"},"mark":{"type":"point","filled":true,"size":289,"fill":"#f23645","strokeWidth":0,"opacity":1,"shape":"M0,-0.8H0.7V-0.5H0ZM0,-0.25H0.95V0.05H0ZM-0.95,0.25H0.95V0.5H-0.95ZM-0.7,0.7H0.7V0.9H-0.7Z"},
 "encoding":{"x":{"field":"d","type":"temporal"},"y":{"field":"p","type":"quantitative"}}},
{"data":{"name":"iconFlag"},"mark":{"type":"point","filled":true,"size":289,"fill":"#3a7bd5","strokeWidth":0,"opacity":1,"shape":"M-0.6,-0.9H0V0.05H-0.95V-0.3Z"},
 "encoding":{"x":{"field":"d","type":"temporal"},"y":{"field":"p","type":"quantitative"}}}
]
}
